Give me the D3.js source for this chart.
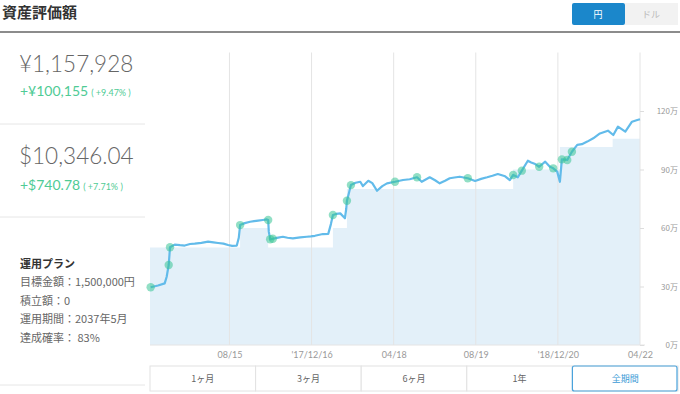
<!DOCTYPE html>
<meta charset="utf-8">
<html>
<head>
<script src="https://d3js.org/d3.v7.min.js"></script>
<style>
  body { margin: 0; background: #fff; }
  svg text { font-family: "Lato", "Noto Sans CJK JP", sans-serif; }
  .jp { font-family: "Noto Sans CJK JP", sans-serif; }
</style>
</head>
<body>
<div id="chart"></div>
<script>

// valuation (万円) by date
var valueDates = ["2017-04-19","2017-04-30","2017-05-10","2017-05-13","2017-05-16","2017-05-18","2017-05-25","2017-06-02","2017-06-09","2017-06-17","2017-06-24","2017-07-04","2017-07-14","2017-07-22","2017-07-29","2017-08-06","2017-08-13","2017-08-19","2017-08-26","2017-08-29","2017-08-31","2017-09-07","2017-09-15","2017-09-21","2017-09-27","2017-10-04","2017-10-10","2017-10-12","2017-10-13","2017-10-15","2017-10-19","2017-10-27","2017-11-03","2017-11-10","2017-11-18","2017-11-29","2017-12-09","2017-12-15","2017-12-21","2018-01-02","2018-01-10","2018-01-14","2018-01-17","2018-01-22","2018-01-28","2018-02-04","2018-02-06","2018-02-07","2018-02-10","2018-02-13","2018-02-20","2018-02-27","2018-03-03","2018-03-11","2018-03-17","2018-03-24","2018-04-01","2018-04-08","2018-04-20","2018-05-02","2018-05-12","2018-05-23","2018-05-30","2018-06-11","2018-06-19","2018-06-26","2018-07-04","2018-07-11","2018-07-18","2018-07-26","2018-08-07","2018-08-18","2018-08-27","2018-09-05","2018-09-13","2018-09-21","2018-10-02","2018-10-09","2018-10-14","2018-10-21","2018-10-27","2018-11-05","2018-11-10","2018-11-16","2018-11-22","2018-12-01","2018-12-08","2018-12-13","2018-12-19","2018-12-23","2018-12-26","2019-01-03","2019-01-10","2019-01-18","2019-01-25","2019-02-02","2019-02-11","2019-02-21","2019-03-05","2019-03-13","2019-03-20","2019-03-31","2019-04-10","2019-04-18","2019-04-22"];
var values = [29.6,30.5,31.6,35,41,50.1,51.5,51.2,51.0,51.8,52,52.4,53,52.6,52.3,52.0,51.3,50.8,51,55,61.5,62.5,63.2,63.5,63.8,64.1,64.4,64.1,58,54.2,54.5,55.1,55.5,55.0,54.7,55.2,55.5,55.7,56,56.9,57,62,66.7,67.2,67.5,65,70,74,78,82,83.2,83.7,81.5,84.2,83,79.1,81.5,82.9,83.7,84.6,85,86,83.7,86,84.5,82.9,84.2,85.5,85.9,86.3,85.5,84.1,85.2,86,86.8,87.7,86.5,84.6,87.2,86,89.4,94.5,93.6,92.8,91.4,94,91.4,90.6,88.9,83.7,95.2,94.9,99.1,102.6,103,104.3,106,108.5,109.9,107.7,112,109.4,114.5,115.4,115.8];

// invested principal (万円), step changes
var principalDates = ["2017-04-18","2017-08-31","2017-10-12","2018-01-17","2018-02-07","2018-10-14","2018-12-23","2019-03-12","2019-04-22"];
var principal = [50,60,50,60,80,90,101.6,105.8,105.8];

// deposit / withdrawal markers
var eventDates = ["2017-04-19","2017-05-16","2017-05-18","2017-08-31","2017-10-12","2017-10-15","2017-10-19","2018-01-17","2018-02-07","2018-02-13","2018-04-20","2018-05-23","2018-08-07","2018-10-14","2018-10-27","2018-11-22","2018-12-13","2018-12-26","2019-01-03","2019-01-10"];

var tickDates = ["2017-08-15","2017-12-16","2018-04-18","2018-08-19","2018-12-20","2019-04-22"];
var tickLabels = ["08/15","'17/12/16","04/18","08/19","'18/12/20","04/22"];
var yTicks = [0,30,60,90,120];
var periods = ["1ヶ月","3ヶ月","6ヶ月","1年","全期間"];

var parse = d3.timeParse("%Y-%m-%d");

var width = 680, height = 394;
var svg = d3.select("#chart").append("svg")
  .attr("width", width)
  .attr("height", height);

// header
svg.append("text").attr("class", "jp")
  .attr("x", 2).attr("y", 18)
  .style("font-size", "15px").style("font-weight", "bold").style("fill", "#333")
  .text("資産評価額");
svg.append("line")
  .attr("x1", 0).attr("x2", 680).attr("y1", 32).attr("y2", 32)
  .attr("stroke", "#666").attr("stroke-width", 1.5);

svg.append("rect").attr("x", 572).attr("y", 3).attr("width", 53).attr("height", 22)
  .attr("rx", 2).attr("fill", "#1b87cb");
svg.append("rect").attr("x", 625).attr("y", 3).attr("width", 53).attr("height", 22)
  .attr("fill", "#f2f2f2");
svg.append("text").attr("class", "jp").attr("x", 598).attr("y", 18)
  .attr("text-anchor", "middle").style("font-size", "9px").style("fill", "#fff").text("円");
svg.append("text").attr("class", "jp").attr("x", 651).attr("y", 18)
  .attr("text-anchor", "middle").style("font-size", "9px").style("fill", "#bbb").text("ドル");

// left summary
function bigValue(y, txt) {
  svg.append("text").attr("x", 19).attr("y", y)
    .style("font-size", "22.5px").style("font-weight", "300").style("fill", "#666")
    .text(txt);
}
function gain(y, main, pct) {
  var t = svg.append("text").attr("x", 20).attr("y", y).style("fill", "#4fcb95");
  t.append("tspan").style("font-size", "14px").text(main);
  t.append("tspan").style("font-size", "9px").attr("dx", 3).text("( " + pct + " )");
}
bigValue(72, "¥1,157,928");
gain(96, "+¥100,155", "+9.47%");
bigValue(164, "$10,346.04");
gain(190, "+$740.78", "+7.71%");

[124, 217, 385].forEach(function(y) {
  svg.append("line").attr("x1", 0).attr("x2", 145).attr("y1", y).attr("y2", y)
    .attr("stroke", "#e6e6e6");
});

svg.append("text").attr("class", "jp").attr("x", 20).attr("y", 268)
  .style("font-size", "11px").style("font-weight", "bold").style("fill", "#333").text("運用プラン");
var plan = ["目標金額：1,500,000円", "積立額：0", "運用期間：2037年5月", "達成確率： 83%"];
plan.forEach(function(p, i) {
  svg.append("text").attr("class", "jp").attr("x", 20).attr("y", 286 + i * 18.5)
    .style("font-size", "11px").style("fill", "#666").text(p);
});

// chart
var x = d3.scaleTime()
  .domain([parse("2017-04-18"), parse("2019-04-22")])
  .range([150, 640]);
var y = d3.scaleLinear()
  .domain([0, 150])
  .range([345, 52.5]);

var series = valueDates.map(function(d, i) { return {date: parse(d), v: values[i]}; });
var steps = principalDates.map(function(d, i) { return {date: parse(d), v: principal[i]}; });

svg.append("path")
  .datum(steps)
  .attr("fill", "#e3f0f9")
  .attr("d", d3.area().curve(d3.curveStepAfter)
    .x(function(d) { return x(d.date); })
    .y0(y(0))
    .y1(function(d) { return y(d.v); }));

svg.append("g").selectAll("line")
  .data(tickDates)
  .enter().append("line")
    .attr("x1", function(d) { return x(parse(d)); })
    .attr("x2", function(d) { return x(parse(d)); })
    .attr("y1", y(150)).attr("y2", y(0))
    .attr("stroke", "#e4e4e4");

svg.append("line")
  .attr("x1", 150).attr("x2", 645).attr("y1", y(0)).attr("y2", y(0))
  .attr("stroke", "#e4e4e4");

var xAxis = svg.append("g")
  .attr("transform", "translate(0," + y(0) + ")")
  .call(d3.axisBottom(x)
    .tickValues(tickDates.map(parse))
    .tickSize(0)
    .tickPadding(7)
    .tickFormat(function(d, i) { return tickLabels[i]; }));
xAxis.select(".domain").remove();
xAxis.selectAll("text").style("font-size", "9px").style("fill", "#999")
  .style("font-family", "Lato, sans-serif");

var yAxis = svg.append("g")
  .attr("transform", "translate(640,0)")
  .call(d3.axisRight(y)
    .tickValues(yTicks)
    .tickSize(4)
    .tickPadding(34)
    .tickFormat(function(d) { return d + "万"; }));
yAxis.select(".domain").remove();
yAxis.selectAll("line").attr("stroke", "#ddd");
yAxis.selectAll("text").attr("text-anchor", "end").attr("dy", "0.32em")
  .style("font-size", "8px").style("fill", "#999")
  .style("font-family", "'Noto Sans CJK JP', sans-serif");

svg.append("path")
  .datum(series)
  .attr("fill", "none")
  .attr("stroke", "#62bbea")
  .attr("stroke-width", 2.2)
  .attr("stroke-linejoin", "round")
  .attr("d", d3.line()
    .x(function(d) { return x(d.date); })
    .y(function(d) { return y(d.v); }));

var byDate = {};
valueDates.forEach(function(d, i) { byDate[d] = values[i]; });
svg.append("g").selectAll("circle")
  .data(eventDates)
  .enter().append("circle")
    .attr("cx", function(d) { return x(parse(d)); })
    .attr("cy", function(d) { return y(byDate[d]); })
    .attr("r", 4.2)
    .attr("fill", "#38c495")
    .attr("fill-opacity", 0.55);

// period buttons
var bw = (678 - 150) / periods.length;
var btn = svg.append("g").selectAll("g")
  .data(periods)
  .enter().append("g")
    .attr("transform", function(d, i) { return "translate(" + (150 + i * bw) + ",366)"; });
btn.append("rect")
  .attr("width", bw).attr("height", 25)
  .attr("fill", "#fff")
  .attr("stroke", "#e2e2e2");
btn.append("text").attr("class", "jp")
  .attr("x", bw / 2).attr("y", 16)
  .attr("text-anchor", "middle")
  .style("font-size", "9px")
  .style("fill", function(d, i) { return i === periods.length - 1 ? "#3c9bd6" : "#666"; })
  .text(function(d) { return d; });
svg.append("rect")
  .attr("x", 150 + 4 * bw).attr("y", 366).attr("width", bw - 1).attr("height", 25)
  .attr("rx", 2).attr("fill", "none").attr("stroke", "#4aa3dc").attr("stroke-width", 1.2);

</script>
</body>
</html>
